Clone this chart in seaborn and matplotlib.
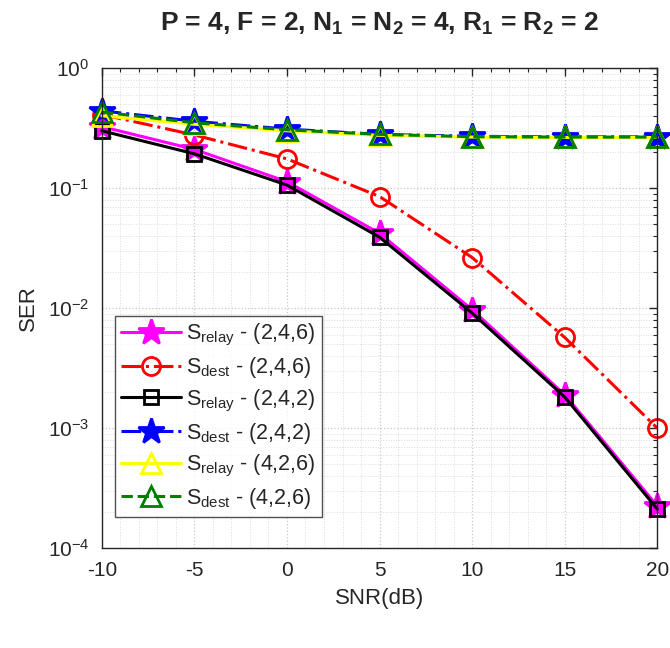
import matplotlib
matplotlib.use("Agg")
import matplotlib.pyplot as plt
from matplotlib.ticker import LogLocator, MultipleLocator, NullFormatter
import numpy as np
import pandas as pd
import seaborn as sns

# ---------------------------------------------------------------------------
# Data
# ---------------------------------------------------------------------------
snr_db = [-10, -5, 0, 5, 10, 15, 20]

ser_relay_246 = [0.325, 0.21, 0.113, 0.042, 0.0097, 0.0019, 0.000225]
ser_dest_246 = [0.41, 0.277, 0.175, 0.085, 0.0264, 0.0057, 0.001]
ser_relay_242 = [0.30, 0.193, 0.106, 0.039, 0.0091, 0.00182, 0.000212]
ser_dest_242 = [0.44, 0.36, 0.31, 0.28, 0.27, 0.267, 0.267]
ser_relay_426 = [0.40, 0.34, 0.30, 0.275, 0.266, 0.264, 0.264]
ser_dest_426 = [0.43, 0.35, 0.306, 0.28, 0.268, 0.266, 0.266]

labels = [
    r"S$_{\mathregular{relay}}$ - (2,4,6)",
    r"S$_{\mathregular{dest}}$ - (2,4,6)",
    r"S$_{\mathregular{relay}}$ - (2,4,2)",
    r"S$_{\mathregular{dest}}$ - (2,4,2)",
    r"S$_{\mathregular{relay}}$ - (4,2,6)",
    r"S$_{\mathregular{dest}}$ - (4,2,6)",
]

series = [ser_relay_246, ser_dest_246, ser_relay_242,
          ser_dest_242, ser_relay_426, ser_dest_426]

# (color, linestyle, marker, marker size, filled)
styles = [
    ("#ff00ff", "-", "*", 19, True),
    ("#ff0000", "-.", "o", 13, False),
    ("#000000", "-", "s", 10, False),
    ("#0000ff", "-.", "*", 19, True),
    ("#ffff00", "-", "^", 15, False),
    ("#008000", "--", "^", 15, False),
]

# ---------------------------------------------------------------------------
# Plot
# ---------------------------------------------------------------------------
sns.set_style("white")
plt.rcParams["font.family"] = ["Liberation Sans", "DejaVu Sans"]
plt.rcParams["mathtext.fontset"] = "custom"
plt.rcParams["mathtext.rm"] = "Liberation Sans"
plt.rcParams["mathtext.bf"] = "Liberation Sans:bold"
plt.rcParams["axes.unicode_minus"] = False

fig = plt.figure(figsize=(6.7, 6.48), dpi=100)
ax = fig.add_axes([0.152, 0.154, 0.829, 0.741])

for vals, lab, (col, ls, mk, ms, filled) in zip(series, labels, styles):
    df = pd.DataFrame({"snr": snr_db, "ser": vals})
    sns.lineplot(
        data=df, x="snr", y="ser", ax=ax, label=lab,
        color=col, linestyle=ls, linewidth=2.2,
        marker=mk, markersize=ms,
        markerfacecolor=col if filled else "none",
        markeredgecolor=col, markeredgewidth=2.0,
        clip_on=False,
    )

ax.set_yscale("log")
ax.set_xlim(-10, 20)
ax.set_ylim(1e-4, 1)
ax.set_xticks(snr_db)
ax.xaxis.set_minor_locator(MultipleLocator(1))
ax.yaxis.set_major_locator(LogLocator(base=10, numticks=10))
ax.yaxis.set_minor_locator(LogLocator(base=10, subs=np.arange(2, 10), numticks=20))
ax.yaxis.set_minor_formatter(NullFormatter())

ax.grid(True, which="major", color="#c8c8c8", linestyle=":", linewidth=0.9)
ax.grid(True, which="minor", color="#dcdcdc", linestyle=":", linewidth=0.7)
ax.set_axisbelow(True)

for sp in ax.spines.values():
    sp.set_color("#262626")
    sp.set_linewidth(1.0)
ax.tick_params(which="major", direction="in", length=6, width=1.0,
               colors="#262626", labelsize=15, top=True, right=True, pad=9)
ax.tick_params(which="minor", direction="in", length=3, width=0.8,
               colors="#262626", top=True, right=True)
for t in ax.get_xticklabels() + ax.get_yticklabels():
    t.set_color("#262626")

ax.set_xlabel("SNR(dB)", fontsize=16, color="#262626", labelpad=6)
ax.set_ylabel("SER", fontsize=16, color="#262626", labelpad=6)
ax.set_title(r"P = 4, F = 2, N$_{\mathbf{1}}$ = N$_{\mathbf{2}}$ = 4, "
             r"R$_{\mathbf{1}}$ = R$_{\mathbf{2}}$ = 2",
             fontsize=19, fontweight="bold", pad=27)

leg = ax.legend(loc="lower left", bbox_to_anchor=(0.023, 0.064), fontsize=15.5,
                frameon=True, fancybox=False, edgecolor="#262626",
                handlelength=2.8, handletextpad=0.2, labelspacing=0.33,
                borderpad=0.3, borderaxespad=0.0)
leg.get_frame().set_linewidth(1.0)

fig.savefig("out.png", dpi=100)
